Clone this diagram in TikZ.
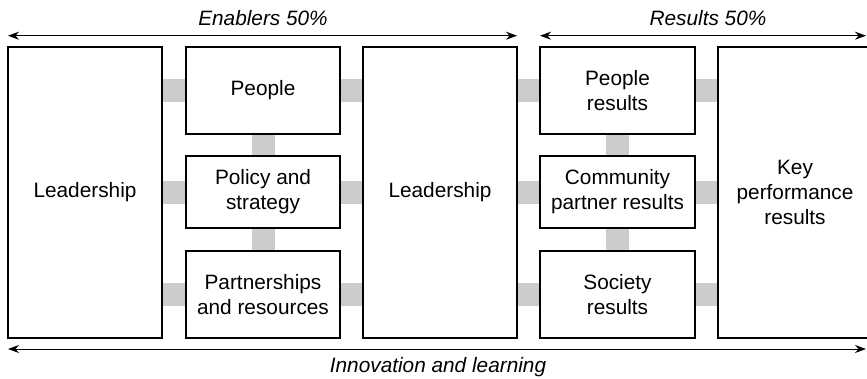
\documentclass[tikz,border=0pt]{standalone}
\usepackage{fontspec}
\setmainfont{Liberation Sans}
\usetikzlibrary{arrows.meta,backgrounds}
\definecolor{barcol}{HTML}{CCCCCC}
\begin{document}
\begin{tikzpicture}[x=1pt,y=-1pt,
  every node/.style={font=\fontsize{20.8}{25}\selectfont},
  box/.style={draw=black,line width=1.1pt,fill=white,align=center,inner sep=0pt,minimum width=154pt},
  tall/.style={box,minimum height=291pt},
  rowbig/.style={box,minimum height=87pt},
  rowmid/.style={box,minimum height=72pt},
  bar/.style={draw=barcol,line width=23pt},
  span/.style={line width=1pt,{Stealth[length=11pt,width=8pt]}-{Stealth[length=11pt,width=8pt]}},
  lbl/.style={font=\fontsize{20.8}{25}\selectfont\itshape}]
\useasboundingbox (0,0) rectangle (867,378);
\clip (0,0) rectangle (867,378);
% boxes
\node[tall] (L1) at (85,192.5) {Leadership};
\node[rowbig] (P1) at (263,90.5) {People};
\node[rowmid] (P2) at (263,192) {Policy and\\strategy};
\node[rowbig] (P3) at (263,294.5) {Partnerships\\and resources};
\node[tall] (L2) at (440,192.5) {Leadership};
\node[rowbig,minimum width=155pt] (R1) at (617.5,90.5) {People\\results};
\node[rowmid,minimum width=155pt] (R2) at (617.5,192) {Community\\partner results};
\node[rowbig,minimum width=155pt] (R3) at (617.5,294.5) {Society\\results};
\node[tall] (K) at (795,192.5) {Key\\performance\\results};
% grey links
\begin{scope}[on background layer]
  \foreach \r in {1,2,3}{
    \draw[bar] (L1.east |- P\r.west) -- (P\r.west);
    \draw[bar] (P\r.east) -- (L2.west |- P\r.east);
    \draw[bar] (L2.east |- R\r.west) -- (R\r.west);
    \draw[bar] (R\r.east) -- (K.west |- R\r.east);
  }
  \draw[bar] (P1.south) -- (P2.north);
  \draw[bar] (P2.south) -- (P3.north);
  \draw[bar] (R1.south) -- (R2.north);
  \draw[bar] (R2.south) -- (R3.north);
\end{scope}
% span arrows
\coordinate (ea) at (8,35.7);
\coordinate (eb) at (517,35.7);
\coordinate (ra) at (540,35.7);
\coordinate (rb) at (866,35.7);
\coordinate (ia) at (8,349);
\coordinate (ib) at (866,349);
\draw[span] (ea) -- (eb);
\draw[span] (ra) -- (rb);
\draw[span] (ia) -- (ib);
\node[lbl] (en) at (263,18) {Enablers 50\%};
\node[lbl] (re) at (708,18) {Results 50\%};
\node[lbl] (in) at (438,367) {Innovation and learning};
\end{tikzpicture}
\end{document}
